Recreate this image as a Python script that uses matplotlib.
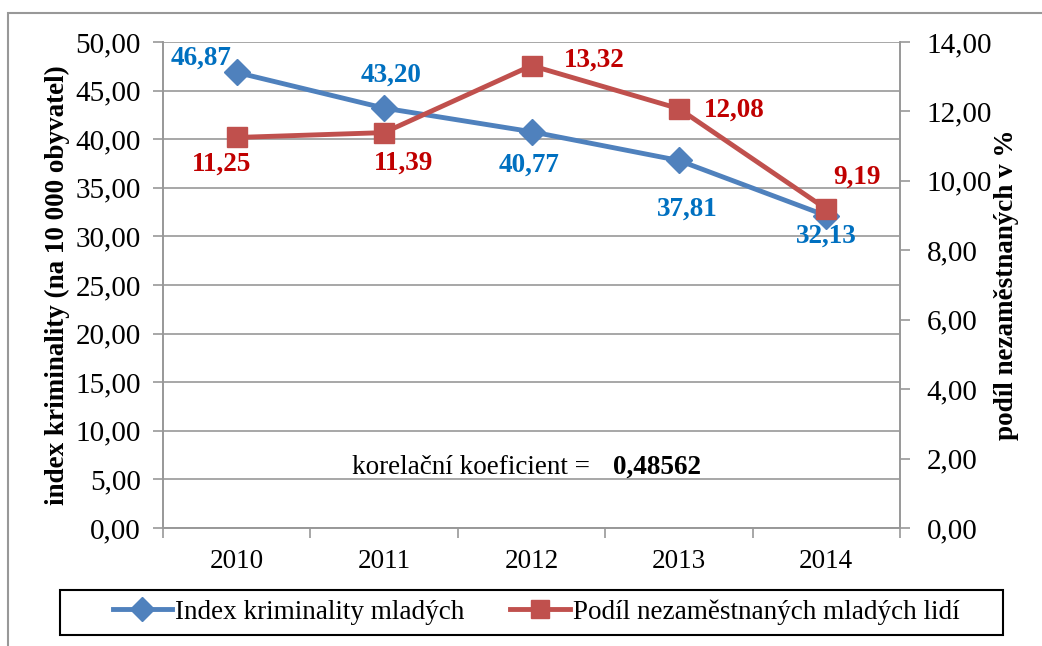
import matplotlib.pyplot as plt
from matplotlib.ticker import FuncFormatter, MultipleLocator
from matplotlib.patches import Rectangle

plt.rcParams['font.family'] = ['Liberation Serif', 'DejaVu Serif']

years = ['2010', '2011', '2012', '2013', '2014']
index_krim = [46.87, 43.20, 40.77, 37.81, 32.13]
podil_nezam = [11.25, 11.39, 13.32, 12.08, 9.19]
korelace = '0,48562'

blue_line = '#4F81BD'
blue_text = '#0070C0'
red_line = '#C0504D'
red_text = '#C00000'
grid_c = '#989898'

W, H = 1042, 646
fig = plt.figure(figsize=(W / 100, H / 100), dpi=100)
ax = fig.add_axes([163 / W, 1 - 528 / H, (900 - 163) / W, (528 - 42) / H])
ax2 = ax.twinx()

comma2 = FuncFormatter(lambda v, p: f'{v:.2f}'.replace('.', ','))
x = list(range(len(years)))

l1, = ax.plot(x, index_krim, color=blue_line, lw=3.5, marker='D', ms=13,
              label='Index kriminality mladých', zorder=3)
l2, = ax2.plot(x, podil_nezam, color=red_line, lw=3.5, marker='s', ms=14,
               label='Podíl nezaměstnaných mladých lidí', zorder=3)

ax.set_xlim(-0.5, len(years) - 0.5)
ax.set_ylim(0, 50)
ax.yaxis.set_major_locator(MultipleLocator(5))
ax.yaxis.set_major_formatter(comma2)
ax2.set_ylim(0, 14)
ax2.yaxis.set_major_locator(MultipleLocator(2))
ax2.yaxis.set_major_formatter(comma2)

ax.set_xticks([i - 0.5 for i in range(len(years) + 1)])
ax.set_xticklabels([])
ax.set_xticks(x, minor=True)
ax.set_xticklabels(years, minor=True)
ax.tick_params(axis='x', which='minor', length=0, labelsize=19.5, pad=15)
ax.tick_params(axis='x', which='major', length=7, color=grid_c, width=1.2)
ax.tick_params(axis='y', length=7, color=grid_c, width=1.2, labelsize=21, pad=9)
ax2.tick_params(axis='y', length=7, color=grid_c, width=1.2, labelsize=21, pad=12)

ax.grid(axis='y', color=grid_c, lw=1.2)
ax.set_axisbelow(True)
for a in (ax, ax2):
    a.spines['top'].set_visible(False)
    for s in ('left', 'right', 'bottom'):
        a.spines[s].set_color(grid_c)
        a.spines[s].set_linewidth(1.2)
ax2.patch.set_visible(False)

ax.set_ylabel('index kriminality (na 10 000 obyvatel)', fontsize=19.5,
              fontweight='bold')
ax.yaxis.set_label_coords((70 - 163) / 737, 0.5)
ax2.set_ylabel('podíl nezaměstnaných v %', fontsize=19.5, fontweight='bold')
ax2.yaxis.set_label_coords((994 - 163) / 737, 0.5)

# data labels
blue_off = [(-26, 10), (5, 24), (-2, -24), (6, -35), (0, -15)]
for xi, v, off in zip(x, index_krim, blue_off):
    ax.annotate(f'{v:.2f}'.replace('.', ','), (xi, v), xytext=off,
                textcoords='offset points', ha='center', va='center',
                color=blue_text, fontsize=19.5, fontweight='bold')
red_off = [(-11, -19), (14, -22), (45, 4), (40, -1), (22, 23)]
for xi, v, off in zip(x, podil_nezam, red_off):
    ax2.annotate(f'{v:.2f}'.replace('.', ','), (xi, v), xytext=off,
                 textcoords='offset points', ha='center', va='center',
                 color=red_text, fontsize=19.5, fontweight='bold')

fig.text(352 / W, 1 - 467 / H, 'korelační koeficient =',
         fontsize=19.5, ha='left', va='center')
fig.text(613 / W, 1 - 467 / H, korelace,
         fontsize=19.5, fontweight='bold', ha='left', va='center')

leg = fig.legend(handles=[l1, l2], loc='center', ncol=2,
                 bbox_to_anchor=(536 / W, 1 - 612 / H), fontsize=19.5,
                 frameon=False, handlelength=2.2, handletextpad=0.1,
                 columnspacing=1.7, markerscale=0.95)
fig.patches.append(Rectangle((60 / W, 1 - 635 / H), (1003 - 60) / W, 45 / H,
                             transform=fig.transFigure, fill=False,
                             edgecolor='black', lw=1.5, figure=fig))

fig.patches.append(Rectangle((8 / W, -0.1), 1.2, 1 - 13 / H + 0.1,
                             transform=fig.transFigure, fill=False,
                             edgecolor=grid_c, lw=1.5, figure=fig))

fig.savefig('out.png', dpi=100)
